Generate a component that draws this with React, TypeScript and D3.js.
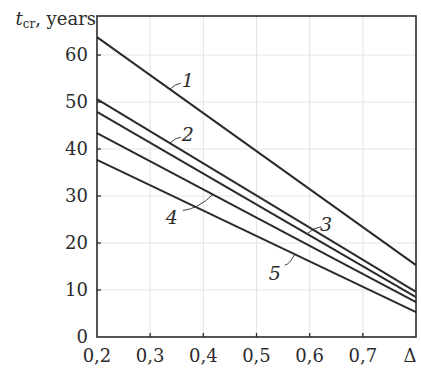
import * as d3 from 'd3';
import React, { useRef, useEffect } from 'react';

// delta values at both ends of the curves
const deltas = [0.2, 0.8];
const curveNames = ['1', '2', '3', '4', '5'];
const curve1 = [63.8, 15.3];
const curve2 = [50.6, 9.6];
const curve3 = [47.9, 8.5];
const curve4 = [43.4, 7.4];
const curve5 = [37.7, 5.3];
const xTickValues = [0.2, 0.3, 0.4, 0.5, 0.6, 0.7];
const xTickLabels = ['0,2', '0,3', '0,4', '0,5', '0,6', '0,7'];
const yTickValues = [0, 10, 20, 30, 40, 50, 60];
// delta where each number's leader touches its curve
const labelDelta = [0.337, 0.337, 0.595, 0.418, 0.572];

const width = 421;
const height = 372;
const margin = { top: 16, right: 5, bottom: 35, left: 97 };
const font = '"DejaVu Serif", "Liberation Serif", Tinos, "Times New Roman", serif';
const ink = '#2b2b2b';

// text center / leader end offsets from the touch point, px
const labelPos = [
  { tx: 18, ty: -9, lx: 11, ly: -6 },
  { tx: 18, ty: -9, lx: 11, ly: -6 },
  { tx: 19, ty: -10, lx: 14, ly: -7 },
  { tx: -41, ty: 22, lx: -30, ly: 16 },
  { tx: -20, ty: 19, lx: -10, ly: 11 },
];

function App() {
  const ref = useRef<SVGSVGElement>(null);

  useEffect(() => {
    draw();
  });

  const draw = () => {
    const svg = d3.select(ref.current);
    svg.selectAll('*').remove();

    const x = d3.scaleLinear()
      .domain([0.2, 0.8])
      .range([margin.left, width - margin.right]);

    const y = d3.scaleLinear()
      .domain([0, 68.3])
      .range([height - margin.bottom, margin.top]);

    const curves = [curve1, curve2, curve3, curve4, curve5];

    // faint grid
    const grid = svg.append('g').attr('stroke', '#e4e4e4').attr('stroke-width', 1);
    grid.selectAll('line.v')
      .data(xTickValues.slice(1))
      .enter().append('line')
      .attr('x1', d => x(d)).attr('x2', d => x(d))
      .attr('y1', y(0)).attr('y2', y(68.3));
    grid.selectAll('line.h')
      .data(yTickValues.slice(1))
      .enter().append('line')
      .attr('x1', x(0.2)).attr('x2', x(0.8))
      .attr('y1', d => y(d)).attr('y2', d => y(d));

    // frame
    svg.append('rect')
      .attr('x', x(0.2)).attr('y', y(68.3))
      .attr('width', x(0.8) - x(0.2))
      .attr('height', y(0) - y(68.3))
      .attr('fill', 'none')
      .attr('stroke', ink)
      .attr('stroke-width', 1.6);

    // inward ticks
    const ticks = svg.append('g').attr('stroke', ink).attr('stroke-width', 1.3);
    ticks.selectAll('line.xt')
      .data(xTickValues.slice(1))
      .enter().append('line')
      .attr('x1', d => x(d)).attr('x2', d => x(d))
      .attr('y1', y(0)).attr('y2', y(0) - 4);
    ticks.selectAll('line.yt')
      .data(yTickValues.slice(1))
      .enter().append('line')
      .attr('x1', x(0.2)).attr('x2', x(0.2) + 4)
      .attr('y1', d => y(d)).attr('y2', d => y(d));

    // tick labels
    svg.append('g')
      .selectAll('text')
      .data(xTickValues)
      .enter().append('text')
      .attr('x', d => x(d))
      .attr('y', y(0) + 25)
      .attr('text-anchor', 'middle')
      .style('font-family', font)
      .attr('font-size', 18)
      .attr('fill', ink)
      .text((d, i) => xTickLabels[i]);

    svg.append('text')
      .attr('x', x(0.8) - 6)
      .attr('y', y(0) + 25)
      .attr('text-anchor', 'middle')
      .style('font-family', font)
      .attr('font-size', 18)
      .attr('fill', ink)
      .text('Δ');

    svg.append('g')
      .selectAll('text')
      .data(yTickValues)
      .enter().append('text')
      .attr('x', x(0.2) - 9)
      .attr('y', d => y(d) + 6)
      .attr('text-anchor', 'end')
      .style('font-family', font)
      .attr('font-size', 18)
      .attr('fill', ink)
      .text(d => d);

    // axis title
    const title = svg.append('text')
      .attr('x', x(0.2) - 1)
      .attr('y', 25)
      .attr('text-anchor', 'end')
      .style('font-family', font)
      .attr('font-size', 18)
      .attr('fill', ink);
    title.append('tspan').attr('font-style', 'italic').text('t');
    title.append('tspan').attr('font-size', 12).attr('dy', 3).text('cr');
    title.append('tspan').attr('dy', -3).text(', years');

    // curves
    const line = d3.line<number>()
      .x((d, i) => x(deltas[i]))
      .y(d => y(d));

    svg.append('g')
      .selectAll('path')
      .data(curves)
      .enter().append('path')
      .attr('d', d => line(d))
      .attr('fill', 'none')
      .attr('stroke', ink)
      .attr('stroke-width', 2);

    // numbered labels with leaders
    const valueAt = (c: number[], dx: number) =>
      c[0] + (c[1] - c[0]) * (dx - deltas[0]) / (deltas[1] - deltas[0]);

    const labels = svg.append('g');
    curves.forEach((c, i) => {
      const px = x(labelDelta[i]);
      const py = y(valueAt(c, labelDelta[i]));
      const p = labelPos[i];
      labels.append('path')
        .attr('d', `M${px},${py} Q${px + p.lx * 0.5},${py + p.ly * 0.9} ${px + p.lx},${py + p.ly}`)
        .attr('fill', 'none')
        .attr('stroke', ink)
        .attr('stroke-width', 0.9);
      labels.append('text')
        .attr('x', px + p.tx)
        .attr('y', py + p.ty + 7)
        .attr('text-anchor', 'middle')
        .style('font-family', font)
        .attr('font-style', 'italic')
        .attr('font-size', 19)
        .attr('fill', ink)
        .text(curveNames[i]);
    });
  };

  return (
    <svg
      ref={ref}
      width={width}
      height={height}
      style={{ position: 'absolute', left: 0, top: 0, background: '#fff' }}
    />
  );
}

export default App;
